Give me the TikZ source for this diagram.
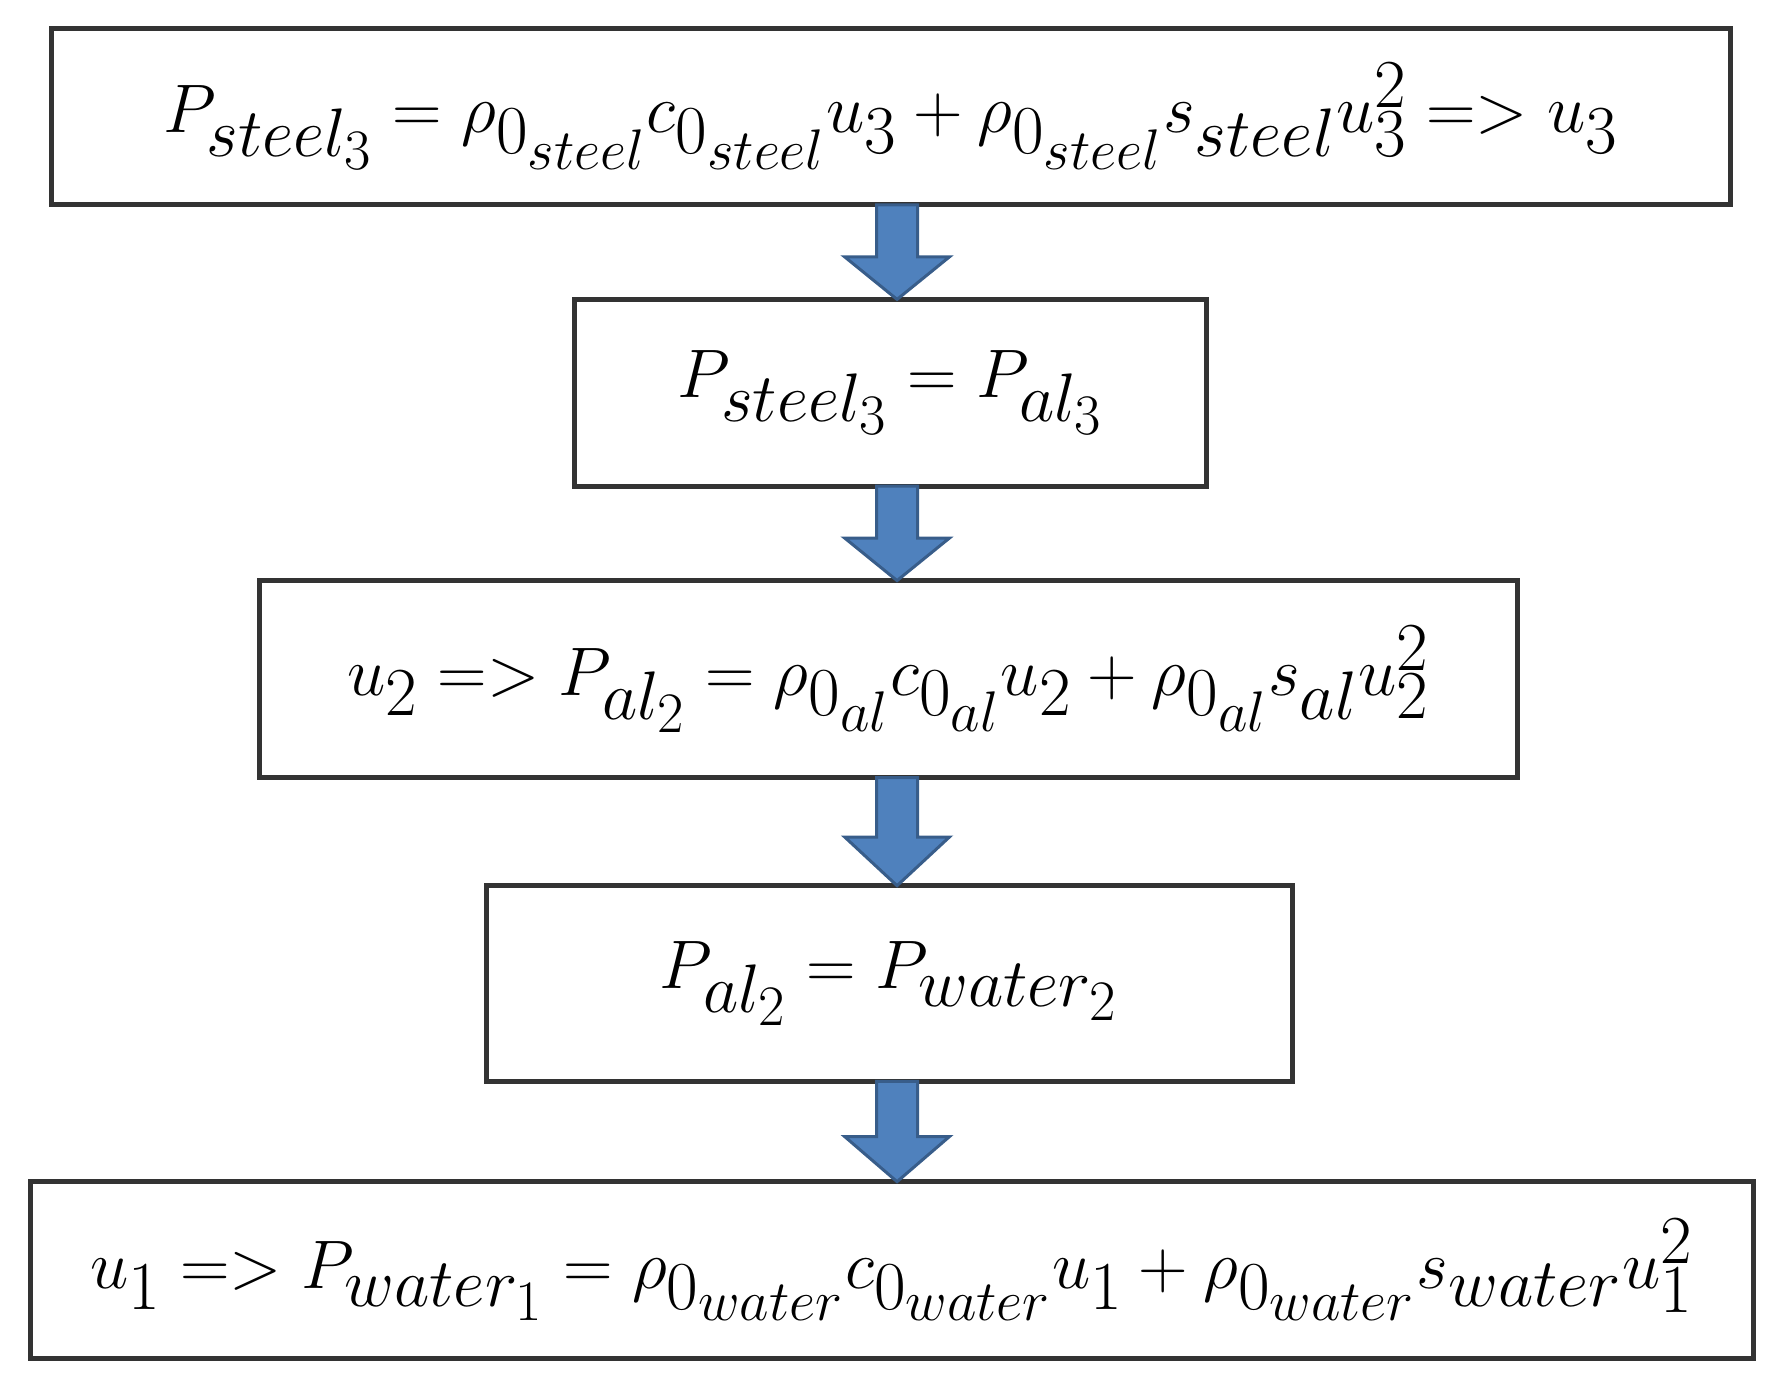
\documentclass[tikz,border=0pt]{standalone}
\definecolor{afill}{HTML}{4F81BD}
\definecolor{aline}{HTML}{385D8A}
\begin{document}
\begin{tikzpicture}[x=0.02cm,y=-0.02cm,
  box/.style={draw=black!80,line width=2.5pt,inner sep=0pt,font=\fontsize{40}{48}\selectfont},
  blk/.style={fill=afill,draw=aline,line width=1.5pt,line join=miter}]
\useasboundingbox (0,0) rectangle (1568,1228);
\newcommand{\mkbox}[6]{\node[box,minimum width={(#4-#2)*0.02cm},minimum height={(#5-#3)*0.02cm}] (#1) at ({(#2+#4)/2},{(#3+#5)/2}) {\scalebox{1.38}{#6}};}
\mkbox{b1}{45}{25}{1520}{180}{$P_{steel_3}=\rho_{0_{steel}}c_{0_{steel}}u_3+\rho_{0_{steel}}s_{steel}u_3^2 => u_3$}
\mkbox{b2}{505}{263}{1060}{427}{$P_{steel_3}=P_{al_3}$}
\mkbox{b3}{228}{510}{1333}{683}{$u_2 => P_{al_2}=\rho_{0_{al}}c_{0_{al}}u_2+\rho_{0_{al}}s_{al}u_2^2$}
\mkbox{b4}{427}{778}{1135}{950}{$P_{al_2}=P_{water_2}$}
\mkbox{b5}{27}{1038}{1540}{1193}{$u_1 => P_{water_1}=\rho_{0_{water}}c_{0_{water}}u_1+\rho_{0_{water}}s_{water}u_1^2$}
\foreach \a/\b/\ya/\yb in {b1/b2/180/263,b2/b3/427/510,b3/b4/683/778,b4/b5/950/1038}{
  \pgfmathsetmacro{\ym}{\ya+0.55*(\yb-\ya)}
  \draw[blk] (770,\ya) -- (806,\ya) -- (806,\ym) -- (834,\ym) -- (788,\yb) -- (742,\ym) -- (770,\ym) -- cycle;
}
\end{tikzpicture}
\end{document}
